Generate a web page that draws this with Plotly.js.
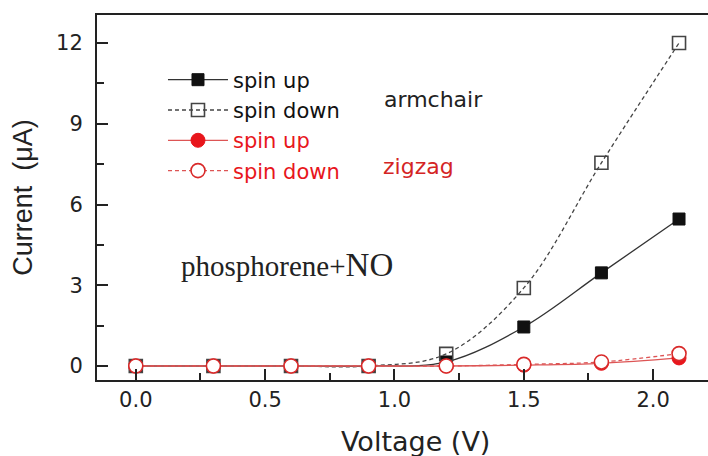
<!DOCTYPE html>
<html>
<head>
<meta charset="utf-8">
<script src="https://cdn.plot.ly/plotly-3.0.1.min.js"></script>
<style>
  html, body { margin: 0; padding: 0; background: #fff; overflow: hidden; }
  #chart { width: 708px; height: 456px; }
</style>
</head>
<body>
<div id="chart"></div>
<script>
// Bias voltage (V)
const voltage = [0, 0.3, 0.6, 0.9, 1.2, 1.5, 1.8, 2.1];

// Current (μA) for each edge type and spin channel
const armchairUp   = [0, 0, 0, 0, 0.15, 1.45, 3.46, 5.46];
const armchairDown = [0, 0, 0, 0, 0.45, 2.9, 7.55, 12.0];
const zigzagUp     = [0, 0, 0, 0, 0.0, 0.03, 0.1, 0.3];
const zigzagDown   = [0, 0, 0, 0, 0.0, 0.06, 0.15, 0.46];

const seriesNames = ['spin up', 'spin down', 'spin up', 'spin down'];

// Labelled tick values
const xTicks = [0, 0.5, 1.0, 1.5, 2.0];
const yTicks = [0, 3, 6, 9, 12];

const BLACK = '#111111';
const RED = '#e8161c';
const RED_LINE = '#dd5555';
const AXIS = '#222222';
const SANS = 'DejaVu Sans, Verdana, sans-serif';

const traces = [
  {
    x: voltage, y: armchairUp, name: seriesNames[0],
    mode: 'lines+markers', type: 'scatter',
    line: { color: '#333', width: 1.3, shape: 'spline' },
    marker: { symbol: 'square', size: 12, color: BLACK, line: { color: BLACK, width: 1 } }
  },
  {
    x: voltage, y: armchairDown, name: seriesNames[1],
    mode: 'lines+markers', type: 'scatter',
    line: { color: '#444', width: 1.3, dash: '4px,3px', shape: 'spline' },
    marker: { symbol: 'square-open', size: 13, color: '#444', line: { width: 1.6 } }
  },
  {
    x: voltage, y: zigzagUp, name: '<span style="color:' + RED + '">' + seriesNames[2] + '</span>',
    mode: 'lines+markers', type: 'scatter',
    line: { color: RED_LINE, width: 1.3, shape: 'spline' },
    marker: { symbol: 'circle', size: 14, color: RED, line: { color: RED, width: 1 } }
  },
  {
    x: voltage, y: zigzagDown, name: '<span style="color:' + RED + '">' + seriesNames[3] + '</span>',
    mode: 'lines+markers', type: 'scatter',
    line: { color: RED_LINE, width: 1.3, dash: '4px,3px', shape: 'spline' },
    marker: { symbol: 'circle', size: 14, color: '#ffffff', line: { color: '#d92a2a', width: 1.6 } }
  }
];

const axisFont = { family: SANS, size: 21, color: AXIS };

const layout = {
  width: 708,
  height: 456,
  margin: { l: 97, r: 0, t: 15, b: 76, pad: 0 },
  paper_bgcolor: '#ffffff',
  plot_bgcolor: '#ffffff',
  showlegend: true,
  legend: {
    x: 0.108, y: 0.878, xanchor: 'left', yanchor: 'top',
    bgcolor: 'rgba(0,0,0,0)', borderwidth: 0,
    font: { family: SANS, size: 21, color: '#111' },
    itemwidth: 60
  },
  xaxis: {
    range: [-0.15, 2.212],
    tickmode: 'array', tickvals: xTicks,
    ticktext: xTicks.map(v => v.toFixed(1)),
    ticks: 'inside', ticklen: 11, tickwidth: 2, tickcolor: AXIS,
    minor: { tickmode: 'linear', tick0: 0, dtick: 0.25, ticks: 'inside', ticklen: 7, tickwidth: 2, tickcolor: AXIS },
    showline: true, linewidth: 2, linecolor: AXIS, mirror: true,
    showgrid: false, zeroline: false,
    tickfont: axisFont,
    automargin: false
  },
  yaxis: {
    range: [-0.52, 13.04],
    tickmode: 'array', tickvals: yTicks,
    ticks: 'inside', ticklen: 11, tickwidth: 2, tickcolor: AXIS,
    minor: { tickmode: 'linear', tick0: 0, dtick: 1.5, ticks: 'inside', ticklen: 7, tickwidth: 2, tickcolor: AXIS },
    showline: true, linewidth: 2, linecolor: AXIS, mirror: false,
    showgrid: false, zeroline: false,
    tickfont: axisFont,
    ticklabelstandoff: 8,
    title: { text: 'Current&nbsp;&nbsp;(μA)', font: { family: 'Liberation Sans, Arial, sans-serif', size: 27, color: AXIS }, standoff: 16 },
    automargin: false
  },
  annotations: [
    {
      xref: 'paper', yref: 'paper', x: 0.521, y: -0.168,
      xanchor: 'center', yanchor: 'middle', showarrow: false,
      text: 'Voltage (V)',
      font: { family: SANS, size: 27, color: AXIS }
    },
    {
      xref: 'x', yref: 'y', x: 1.149, y: 9.89, showarrow: false,
      xanchor: 'center', yanchor: 'middle',
      text: 'armchair',
      font: { family: SANS, size: 22, color: AXIS }
    },
    {
      xref: 'x', yref: 'y', x: 1.091, y: 7.4, showarrow: false,
      xanchor: 'center', yanchor: 'middle',
      text: 'zigzag',
      font: { family: SANS, size: 22, color: '#d42424' }
    },
    {
      xref: 'x', yref: 'y', x: 0.585, y: 3.75, showarrow: false,
      xanchor: 'center', yanchor: 'middle',
      text: 'phosphorene+<span style="font-size:33px">NO</span>',
      font: { family: 'Liberation Serif, Times New Roman, serif', size: 29, color: AXIS }
    }
  ]
};

Plotly.newPlot('chart', traces, layout, { staticPlot: true, displayModeBar: false });
</script>
</body>
</html>
